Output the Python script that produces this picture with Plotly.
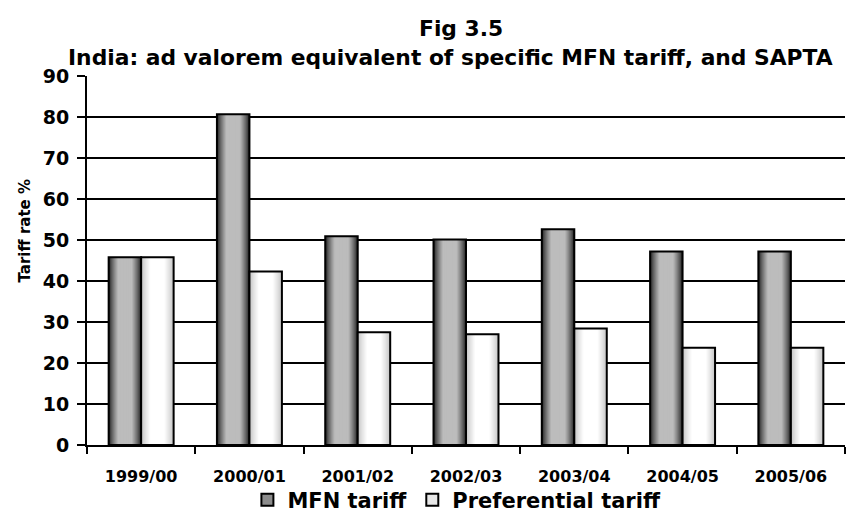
import plotly.graph_objects as go

years = ['1999/00', '2000/01', '2001/02', '2002/03', '2003/04', '2004/05', '2005/06']
mfn_tariff = [45.8, 80.7, 50.9, 50.1, 52.6, 47.2, 47.2]
pref_tariff = [45.8, 42.3, 27.5, 27.0, 28.4, 23.7, 23.7]

FONT = 'DejaVu Sans'
BAR_W = 0.3
N_LAYERS = 16


def mix(c1, c2, t):
    c = [round(a + (b - a) * t) for a, b in zip(c1, c2)]
    return 'rgb(%d,%d,%d)' % tuple(c)


def gradient_bars(fig, values, center, edge_rgb, mid_rgb, name):
    # fake a horizontal gradient: stacked bars getting narrower and lighter
    for k in range(N_LAYERS):
        w = BAR_W * (1 - k / N_LAYERS)
        t = min(1.0, (k / N_LAYERS) / 0.55) ** 0.8
        fig.add_trace(go.Bar(
            x=years, y=values, width=w, offset=center - w / 2,
            marker=dict(color=mix(edge_rgb, mid_rgb, t), line=dict(width=0)),
            showlegend=False, hoverinfo='skip'
        ))
    # black outline on top
    fig.add_trace(go.Bar(
        x=years, y=values, width=BAR_W, offset=center - BAR_W / 2,
        marker=dict(color='rgba(0,0,0,0)', line=dict(color='black', width=2)),
        showlegend=False, name=name
    ))


fig = go.Figure()
gradient_bars(fig, mfn_tariff, -BAR_W / 2, (35, 35, 35), (188, 188, 188), 'MFN tariff')
gradient_bars(fig, pref_tariff, BAR_W / 2, (195, 195, 195), (255, 255, 255), 'Preferential tariff')

# legend entries
fig.add_trace(go.Bar(x=years, y=[None] * len(years), name='MFN tariff',
                     marker=dict(color='#8c8c8c', line=dict(color='black', width=2))))
fig.add_trace(go.Bar(x=years, y=[None] * len(years), name='Preferential tariff',
                     marker=dict(color='#e8e8e8', line=dict(color='black', width=2))))

title_font = dict(family=FONT, size=21.8, weight='bold')

# page body has an 8px margin, so the figure is a bit smaller than the window
fig.update_layout(
    width=859, height=506,
    barmode='overlay',
    plot_bgcolor='white', paper_bgcolor='white',
    margin=dict(l=79, r=22, t=68, b=69, autoexpand=False),
    font=dict(family=FONT, color='black', weight='bold'),
    xaxis=dict(
        showline=True, linecolor='black', linewidth=2,
        ticks='outside', tickson='boundaries', ticklen=7, tickwidth=2, tickcolor='black',
        tickfont=dict(size=16), ticklabelstandoff=16, showgrid=False, automargin=False
    ),
    yaxis=dict(
        range=[0, 90], dtick=10,
        showline=True, linecolor='black', linewidth=2,
        ticks='outside', ticklen=8, tickwidth=2, tickcolor='black',
        tickfont=dict(size=19), ticklabelstandoff=4,
        showgrid=True, gridcolor='black', gridwidth=2, zeroline=False, automargin=False
    ),
    legend=dict(
        orientation='h', x=0.488, xanchor='center', y=-0.149, yanchor='middle',
        font=dict(size=21), bgcolor='rgba(0,0,0,0)'
    ),
    annotations=[
        dict(text='Fig 3.5', xref='paper', yref='paper',
             x=(461 - 87) / 758, y=1.13, xanchor='center', yanchor='middle',
             showarrow=False, font=title_font),
        dict(text='India: ad valorem equivalent of specific MFN tariff, and SAPTA',
             xref='paper', yref='paper',
             x=(450 - 87) / 758, y=1.05, xanchor='center', yanchor='middle',
             showarrow=False, font=title_font),
        dict(text='Tariff rate %', textangle=-90,
             xref='paper', yref='paper', x=-0.082, y=0.581,
             xanchor='center', yanchor='middle', showarrow=False,
             font=dict(size=15, family=FONT, weight='bold')),
    ]
)

fig.write_html('out.html')
